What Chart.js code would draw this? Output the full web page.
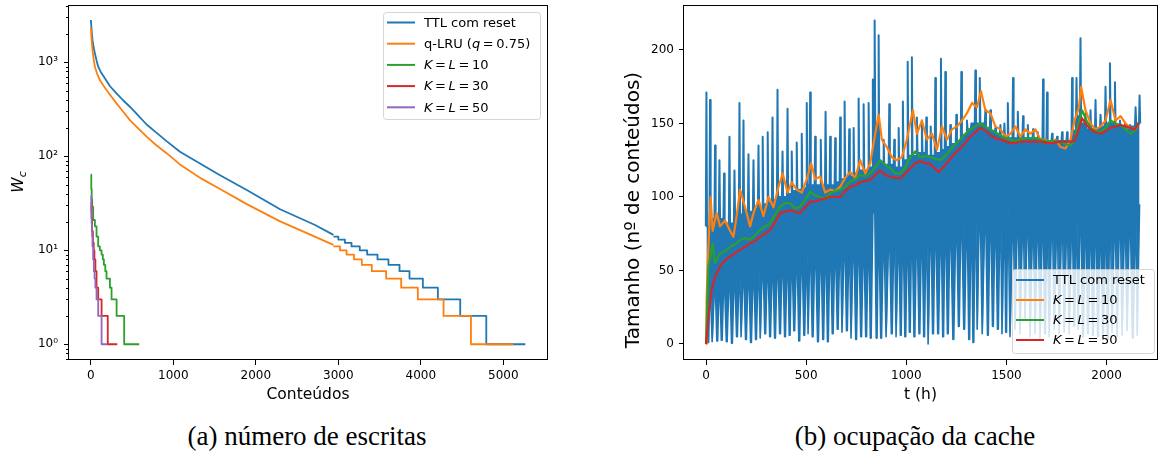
<!DOCTYPE html>
<html>
<head>
<meta charset="utf-8">
<script src="https://cdn.jsdelivr.net/npm/chart.js@4.4.1/dist/chart.umd.min.js"></script>
<style>
  html, body { margin:0; padding:0; background:#fff; }
  #wrap { position:relative; width:1161px; height:460px; overflow:hidden; }
  canvas { position:absolute; top:0; }
  #c1 { left:0; }
  #c2 { left:590px; }
  .cap { position:absolute; top:423px; font-family:"Liberation Serif","DejaVu Serif",serif; font-size:27px; line-height:27px;
         color:#000; white-space:nowrap; transform:translateX(-50%); }
</style>
</head>
<body>
<div id="wrap">
  <canvas id="c1" width="575" height="410" style="width:575px;height:410px"></canvas>
  <canvas id="c2" width="571" height="410" style="width:571px;height:410px"></canvas>
  <div class="cap" style="left:307px">(a) número de escritas</div>
  <div class="cap" style="left:915px">(b) ocupação da cache</div>
</div>
<script>
/* ---------- (a) número de escritas ---------- */
const xTicksA  = [0, 1000, 2000, 3000, 4000, 5000];
const yMajorA  = [1, 10, 100, 1000];
const yLabelsA = ['10\u2070', '10\u00b9', '10\u00b2', '10\u00b3'];

// TTL com reset: smooth head + integer steps in the tail
const ttlX     = [0, 10, 20, 35, 49, 70, 89, 120, 170, 230, 311, 390, 473, 570, 676, 790, 918, 1080, 1323, 1566, 1890, 2294, 2536, 2718, 2941];
const ttlY     = [2820, 2150, 1727, 1420, 1247, 1040, 898, 790, 676, 560, 468, 395, 337, 275, 218, 180, 145, 112, 84, 63, 43.8, 27.3, 21.9, 18.6, 14.6];
const ttlStepX = [2941, 3000, 3080, 3160, 3260, 3350, 3475, 3608, 3742, 3863, 4025, 4207, 4478, 4794, 5267];
const ttlStepY = [14, 13, 12, 11, 10, 9, 8, 7, 6, 5, 4, 3, 2, 1, 1];

// q-LRU (q = 0.75)
const qlruX     = [0, 10, 20, 35, 49, 75, 109, 150, 190, 250, 311, 390, 473, 570, 676, 790, 918, 1080, 1323, 1545, 1890, 2294, 2536, 2941];
const qlruY     = [2340, 1700, 1350, 1060, 898, 760, 648, 570, 507, 430, 366, 300, 243, 200, 162, 132, 108, 82, 59, 46, 31, 20.3, 16.4, 11.4];
const qlruStepX = [2941, 3020, 3100, 3190, 3285, 3406, 3580, 3762, 3964, 4276, 4608, 5125];
const qlruStepY = [11, 10, 9, 8, 7, 6, 5, 4, 3, 2, 1, 1];

// K = L = 10 / 30 / 50
const kl10X = [0, 5, 10, 16, 28, 49, 69, 89, 109, 130, 145, 158, 175, 190, 231, 251, 312, 404, 586];
const kl10Y = [64, 45, 35, 29, 21, 18, 14, 11, 10, 9, 8, 7, 6, 5, 4, 3, 2, 1, 1];
const kl30X = [0, 8, 15, 25, 35, 43, 55, 69, 89, 130, 205, 320];
const kl30Y = [32, 22, 16, 12, 10, 8, 6, 4, 3, 2, 1, 1];
const kl50X = [0, 5, 10, 15, 20, 28, 36, 45, 55, 69, 89, 130, 200];
const kl50Y = [38, 26, 19, 14, 11, 8, 6, 5, 4, 3, 2, 1, 1];

/* ---------- (b) ocupação da cache ---------- */
const xTicksB = [0, 500, 1000, 1500, 2000];
const yTicksB = [0, 50, 100, 150, 200];

// TTL com reset: one spike (peak) per day, a dip (trough) between days,
// plus the level where the dense band starts/ends around each one
const dayPeakT = [2,20,45,67,90,117,142,167,187,212,237,262,283,308,332,357,382,407,428,453,
  478,503,520,545,573,597,620,645,670,692,715,737,762,787,812,833,842,862,887,915,
  940,962,983,1007,1028,1053,1078,1100,1122,1145,1173,1195,1220,1250,1275,1303,1325,1345,1367,1395,
  1420,1445,1470,1490,1507,1533,1557,1583,1607,1633,1657,1683,1703,1728,1753,1778,1803,1828,1850,1870,
  1895,1920,1945,1970,1995,2017,2042,2067,2092,2117,2145,2165];
const dayPeakY = [171,166,135,125,116,141,118,164,152,129,125,135,141,144,154,173,131,160,131,137,
  143,164,171,141,139,158,141,140,154,165,146,147,167,163,164,180,220,210,139,163,
  139,147,165,192,195,154,152,154,148,181,194,185,149,156,185,152,150,186,181,159,
  159,147,149,150,164,181,158,155,149,146,144,180,171,143,141,144,144,181,181,208,
  157,159,166,156,175,191,178,152,150,149,161,169];
const daySlitTopY = [5,45,48,50,52,55,56,58,58,60,60,62,64,65,66,68,70,72,70,72,
  74,72,76,78,76,80,80,78,82,84,80,84,86,82,86,88,100,90,86,88,
  90,86,92,90,94,92,95,92,96,98,95,100,96,100,104,100,105,108,110,105,
  108,100,104,98,102,100,104,98,102,96,100,104,98,102,96,100,98,102,106,110,
  104,100,104,98,102,106,100,104,98,102,100,95];
const gapTroughY = [1,1.5,2,2.5,1.5,0.5,5,5,3,1,3,4,7,5,4,7,5,6,9,2,
  6,7,5,1.5,3,1.5,7,10,8,9,4,3,5,5,4,90,4,4,5,7,
  5,6,5,8,5,7,5,0,7,7,5,7,3,12,10,3,1,10,7,6,
  12,10,7,8,5,10,7,16,5,7,4,7,5,10,7,8,7,12,10,5,
  7,6,5,7,3,8,5,6,9,4,6];
const gapValleyY = [80,85,85,85,82,82,88,88,90,90,92,92,95,96,98,100,100,102,104,105,
  106,108,108,108,108,108,108,110,112,114,114,116,118,118,120,150,150,124,122,122,
  120,120,125,128,128,130,130,128,128,130,132,134,136,138,142,146,150,150,150,146,
  144,142,140,140,140,140,140,139,139,139,139,139,138,138,138,138,138,145,155,150,
  146,144,146,148,150,150,148,148,146,148,150];

// K = L = 10
const b10T = [0,3,10,23,33,53,70,95,120,137,153,170,195,220,237,262,287,312,337,362,
  383,407,428,453,478,503,525,545,570,595,620,645,670,695,720,745,770,795,820,845,
  862,878,903,928,953,978,1003,1033,1053,1078,1103,1128,1153,1178,1203,1228,1253,1278,1303,1328,
  1353,1373,1395,1420,1445,1470,1495,1520,1545,1570,1595,1620,1645,1670,1695,1720,1745,1770,1795,1820,
  1840,1862,1873,1895,1920,1945,1970,1995,2020,2045,2070,2095,2120,2145,2162];
const b10Y = [0,30,60,100,77,89,80,84,77,73,87,105,93,80,89,98,87,100,93,107,
  116,103,110,105,103,112,123,112,114,103,105,104,107,113,117,113,125,116,123,143,
  156,139,134,127,125,127,139,159,143,152,139,143,132,148,139,146,148,152,157,164,
  161,172,159,157,148,146,141,143,148,141,146,143,146,139,139,137,139,134,133,139,
  152,161,175,159,150,146,148,152,166,152,155,150,147,146,150];
// K = L = 30
const b30T = [0,5,12,22,33,45,70,95,120,145,170,195,220,245,270,295,320,345,370,395,
  420,445,470,495,520,545,570,595,620,645,670,695,720,745,770,795,820,845,870,895,
  920,945,970,995,1020,1045,1070,1095,1120,1145,1170,1195,1220,1245,1270,1295,1320,1345,1370,1395,
  1420,1445,1470,1495,1520,1545,1570,1595,1620,1645,1670,1695,1720,1745,1770,1795,1820,1840,1853,1878,
  1900,1920,1945,1970,1995,2020,2045,2070,2095,2120,2140,2162];
const b30Y = [0,25,52.6,60,68.5,55,61.7,63,66,68,70.7,72,70.7,74,77.5,80,82,88,93.4,96,
  95.7,92,93.4,98,103.6,101,100,99,102.5,104,104.8,107,110.4,112,115,114,116,120,125,122,
  119.5,116,116,120,127,131,127,128,127,126,125,128,132,136,139,143,146,148,150,148,
  146,144,142,140,139,138,139,140,140,140,139,138,137.6,138,137.6,136,135,138,146,159,
  152,147,145,144,147,152,150,149,146,143,145,151];
// K = L = 50
const b50T = [0,12,28,45,70,95,120,145,170,195,220,245,270,295,320,345,370,395,420,445,
  470,495,520,545,570,595,620,645,670,695,720,745,770,795,820,845,870,895,920,945,
  970,995,1020,1045,1070,1095,1120,1145,1162,1190,1220,1245,1270,1295,1320,1345,1370,1395,1420,1445,
  1470,1495,1520,1545,1570,1620,1670,1720,1770,1820,1840,1853,1878,1900,1920,1945,1970,1995,2020,2045,
  2070,2095,2120,2140,2162];
const b50Y = [0,18.6,36.7,45.8,52.6,57,59.4,62,64,66,68.5,70,73,75,77.5,83,89,90,91,90,
  89,93,96.8,97,98,99,100,100,100,104,107,108,110,111,111.6,115,118,115,113.8,113,
  112.7,116,119.5,123,124.5,123,122.5,119,117,121,126,130,133,137,141,144,147,145,142,140,
  139,138,136.5,137,137.6,137.6,137.6,136.5,137.6,137.6,138,143,153.5,149,146,144,143,145,147,148,
  149,148,147,146,150];

/* ---------- colours & helpers ---------- */
const C = { blue:'#1f77b4', orange:'#ff7f0e', green:'#2ca02c', red:'#d62728', purple:'#9467bd' };
const FONT = '"DejaVu Sans", sans-serif';
const pts = (xs, ys) => xs.map((x, i) => ({ x, y: ys[i] }));

function line(data, color, extra) {
  return Object.assign({ data, borderColor: color, backgroundColor: color, borderWidth: 1.8,
    pointRadius: 0, fill: false, tension: 0, borderJoinStyle: 'round' }, extra || {});
}

// draw text made of upright / italic runs
function runs(ctx, x, y, parts, size) {
  let cx = x;
  parts.forEach(([t, it]) => {
    ctx.font = (it ? 'italic ' : '') + size + 'px ' + FONT;
    ctx.fillText(t, cx, y);
    cx += ctx.measureText(t).width;
  });
}
const EQ = '\u2009=\u2009';

// keep the plot box exactly where it is in the figure
function noPad(s) { s.paddingTop = 0; s.paddingBottom = 0; s.paddingLeft = 0; s.paddingRight = 0; }

/* frame, minor ticks, axis titles and legend */
const deco = {
  id: 'deco',
  afterDraw(chart, args, o) {
    const { ctx, chartArea: a } = chart;
    ctx.save();
    ctx.strokeStyle = '#000';
    ctx.lineWidth = 1;
    ctx.strokeRect(Math.round(a.left) - 0.5, Math.round(a.top) + 0.5,
                   Math.round(a.right - a.left) + 1, Math.round(a.bottom - a.top) - 1);

    if (o.minor) {
      const ys = chart.scales.y;
      o.minor.forEach(v => {
        const py = Math.round(ys.getPixelForValue(v)) + 0.5;
        ctx.beginPath(); ctx.moveTo(a.left - 3, py); ctx.lineTo(a.left, py); ctx.stroke();
      });
    }

    ctx.fillStyle = '#000';
    ctx.textBaseline = 'middle';
    // x title
    ctx.font = '15.5px ' + FONT;
    ctx.textAlign = 'center';
    ctx.fillText(o.xTitle, (a.left + a.right) / 2, o.xTitleY);
    // y title (rotated)
    ctx.save();
    ctx.translate(o.yTitleX, o.yTitleY);
    ctx.rotate(-Math.PI / 2);
    ctx.textAlign = 'left';
    const ys = o.yTitleSize || 15.5;
    let w = 0;
    o.yTitle.forEach(([t, it, s]) => { ctx.font = (it ? 'italic ' : '') + (s || ys) + 'px ' + FONT; w += ctx.measureText(t).width; });
    let cx = -w / 2;
    o.yTitle.forEach(([t, it, s, dy]) => {
      ctx.font = (it ? 'italic ' : '') + (s || ys) + 'px ' + FONT;
      ctx.fillText(t, cx, dy || 0);
      cx += ctx.measureText(t).width;
    });
    ctx.restore();

    // legend
    const L = o.legend;
    ctx.textAlign = 'left';
    ctx.fillStyle = 'rgba(255,255,255,0.8)';
    ctx.strokeStyle = 'rgba(204,204,204,0.8)';
    ctx.beginPath();
    ctx.roundRect(L.x + 0.5, L.y + 0.5, L.w, L.h, 3);
    ctx.fill(); ctx.stroke();
    L.items.forEach((it, i) => {
      const yy = L.y + L.first + i * L.step;
      ctx.strokeStyle = it.c; ctx.lineWidth = 2;
      ctx.beginPath(); ctx.moveTo(L.x + 4, yy); ctx.lineTo(L.x + 32, yy); ctx.stroke();
      ctx.fillStyle = '#000';
      runs(ctx, L.x + 41, yy + 1, it.t, 13);
    });
    ctx.restore();
  }
};
Chart.register(deco);

const tickFont = { family: FONT, size: 12 };
const common = {
  responsive: false, animation: false, events: [],
  plugins: { legend: { display: false }, tooltip: { enabled: false } }
};

/* ---------- chart (a) ---------- */
const minorA = [];
[0.1, 1, 10, 100, 1000].forEach(d => [2,3,4,5,6,7,8,9].forEach(m => {
  const v = d * m; if (v > 0.68 && v < 4075) minorA.push(v);
}));

// Chart.js 'before' = horizontal run first, then the drop (matplotlib steps-post)
const STEP = 'before';

new Chart(document.getElementById('c1'), {
  type: 'line',
  data: { datasets: [
    line(pts(kl50X, kl50Y), C.purple, { stepped: STEP, order: 0 }),
    line(pts(kl30X, kl30Y), C.red,    { stepped: STEP, order: 1 }),
    line(pts(kl10X, kl10Y), C.green,  { stepped: STEP, order: 2 }),
    line(pts(qlruX, qlruY), C.orange, { order: 3 }),
    line(pts(qlruStepX, qlruStepY), C.orange, { stepped: STEP, order: 3 }),
    line(pts(ttlX, ttlY), C.blue, { order: 4 }),
    line(pts(ttlStepX, ttlStepY), C.blue, { stepped: STEP, order: 4 })
  ]},
  options: Object.assign({}, common, {
    layout: { padding: { top: 5, right: 28, left: 0, bottom: 0 } },
    scales: {
      x: { type: 'linear', min: -265, max: 5530,
        afterFit: s => { s.height = 50; noPad(s); },
        afterBuildTicks: s => { s.ticks = xTicksA.map(v => ({ value: v })); },
        ticks: { font: tickFont, color: '#000', padding: 4, maxRotation: 0, autoSkip: false, callback: v => String(v) },
        grid: { display: true, drawOnChartArea: false, drawTicks: true, tickLength: 5, tickColor: '#000' },
        border: { display: false } },
      y: { type: 'logarithmic', min: 0.68, max: 4075,
        afterFit: s => { s.width = 69; noPad(s); },
        afterBuildTicks: s => { s.ticks = yMajorA.map(v => ({ value: v })); },
        ticks: { font: tickFont, color: '#000', padding: 6, autoSkip: false,
          callback: v => { const i = yMajorA.indexOf(v); return i < 0 ? '' : yLabelsA[i]; } },
        grid: { display: true, drawOnChartArea: false, drawTicks: true, tickLength: 5, tickColor: '#000' },
        border: { display: false } }
    },
    plugins: Object.assign({}, common.plugins, { deco: {
      minor: minorA,
      xTitle: 'Conteúdos', xTitleY: 395,
      yTitle: [['W', true], ['c', true, 11, 4]], yTitleX: 19, yTitleY: 182,
      legend: { x: 383, y: 12, w: 157, h: 107, first: 10.5, step: 21.2, items: [
        { c: C.blue,   t: [['TTL com reset']] },
        { c: C.orange, t: [['q-LRU ('], ['q', 1], [EQ + '0.75)']] },
        { c: C.green,  t: [['K', 1], [EQ], ['L', 1], [EQ + '10']] },
        { c: C.red,    t: [['K', 1], [EQ], ['L', 1], [EQ + '30']] },
        { c: C.purple, t: [['K', 1], [EQ], ['L', 1], [EQ + '50']] }
      ]}
    }})
  })
});

/* ---------- chart (b) ---------- */
const upper = [], lower = [];
const n = dayPeakT.length;
for (let i = 0; i < n; i++) {
  const t = dayPeakT[i];
  upper.push({ x: t - 3, y: gapValleyY[Math.max(i - 1, 0)] },
             { x: t,     y: dayPeakY[i] },
             { x: t + 3, y: gapValleyY[Math.min(i, n - 2)] });
  lower.push({ x: t, y: daySlitTopY[i] });
  if (i < n - 1) {
    const m = (t + dayPeakT[i + 1]) / 2;
    lower.push({ x: m - 2, y: gapTroughY[i] }, { x: m + 2, y: gapTroughY[i] });
  }
}

new Chart(document.getElementById('c2'), {
  type: 'line',
  data: { datasets: [
    line(pts(b50T, b50Y), C.red,    { order: 0, borderWidth: 2.2 }),
    line(pts(b30T, b30Y), C.green,  { order: 1, borderWidth: 2.2 }),
    line(pts(b10T, b10Y), C.orange, { order: 2, borderWidth: 2.2 }),
    line(upper, C.blue, { order: 3, borderWidth: 2, fill: { target: 4 }, backgroundColor: C.blue }),
    line(lower, C.blue, { order: 4, borderWidth: 1.6 })
  ]},
  options: Object.assign({}, common, {
    layout: { padding: { top: 5, right: 4, left: 0, bottom: 0 } },
    scales: {
      x: { type: 'linear', min: -110, max: 2252,
        afterFit: s => { s.height = 50; noPad(s); },
        afterBuildTicks: s => { s.ticks = xTicksB.map(v => ({ value: v })); },
        ticks: { font: tickFont, color: '#000', padding: 4, maxRotation: 0, autoSkip: false, callback: v => String(v) },
        grid: { display: true, drawOnChartArea: false, drawTicks: true, tickLength: 5, tickColor: '#000' },
        border: { display: false } },
      y: { type: 'linear', min: -10.9, max: 230.6,
        afterFit: s => { s.width = 94; noPad(s); },
        afterBuildTicks: s => { s.ticks = yTicksB.map(v => ({ value: v })); },
        ticks: { font: tickFont, color: '#000', padding: 5, autoSkip: false, callback: v => String(v) },
        grid: { display: true, drawOnChartArea: false, drawTicks: true, tickLength: 5, tickColor: '#000' },
        border: { display: false } }
    },
    plugins: Object.assign({}, common.plugins, { deco: {
      xTitle: 't (h)', xTitleY: 395,
      yTitle: [['Tamanho (nº de conteúdos)']], yTitleSize: 20, yTitleX: 44, yTitleY: 210,
      legend: { x: 422, y: 269, w: 142, h: 84, first: 11, step: 20, items: [
        { c: C.blue,   t: [['TTL com reset']] },
        { c: C.orange, t: [['K', 1], [EQ], ['L', 1], [EQ + '10']] },
        { c: C.green,  t: [['K', 1], [EQ], ['L', 1], [EQ + '30']] },
        { c: C.red,    t: [['K', 1], [EQ], ['L', 1], [EQ + '50']] }
      ]}
    }})
  })
});
</script>
</body>
</html>
